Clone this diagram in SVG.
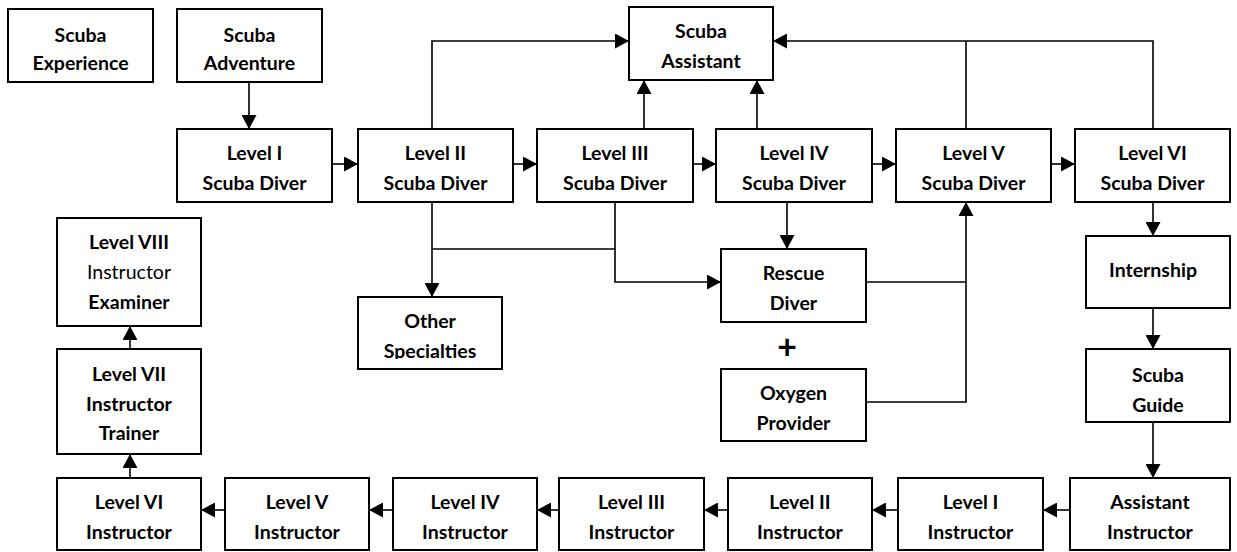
<svg xmlns="http://www.w3.org/2000/svg" width="1237" height="552" viewBox="0 0 1237 552">
<style>
.box{fill:#fff;stroke:#000;stroke-width:2}
text{font-family:Lato,"Liberation Sans",sans-serif;font-size:19.5px;font-weight:bold;text-anchor:middle;fill:#000}
.reg{font-weight:normal}
.c{fill:none;stroke:#000;stroke-width:1.6}
.a{marker-end:url(#ah)}
</style>
<defs>
<marker id="ah" markerUnits="userSpaceOnUse" markerWidth="15" markerHeight="15" refX="14" refY="7.5" orient="auto">
<path d="M0,0 L14,7.5 L0,15 z" fill="#000"/>
</marker>
<clipPath id="clipOther"><rect x="358" y="297" width="144" height="62"/></clipPath>
</defs>
<g id="connectors">
<path class="c a" d="M249,82 V129"/>
<path class="c a" d="M332,164 H358"/>
<path class="c a" d="M513,164 H537"/>
<path class="c a" d="M693,164 H716"/>
<path class="c a" d="M872,164 H896"/>
<path class="c a" d="M1051,164 H1075"/>
<path class="c a" d="M432,129 V41 H629"/>
<path class="c a" d="M644,129 V80"/>
<path class="c a" d="M757,129 V80"/>
<path class="c a" d="M1153,129 V41 H773"/>
<path class="c" d="M966,129 V41"/>
<path class="c a" d="M432,202 V297"/>
<path class="c" d="M432,249 H615"/>
<path class="c a" d="M615,202 V282 H721"/>
<path class="c a" d="M787,202 V249"/>
<path class="c" d="M866,282 H966"/>
<path class="c a" d="M866,402 H966 V202"/>
<path class="c a" d="M1153,202 V236"/>
<path class="c a" d="M1153,308 V349"/>
<path class="c a" d="M1153,422 V478"/>
<path class="c a" d="M1070,510 H1043"/>
<path class="c a" d="M898,510 H872"/>
<path class="c a" d="M728,510 H704"/>
<path class="c a" d="M559,510 H537"/>
<path class="c a" d="M393,510 H369"/>
<path class="c a" d="M225,510 H201"/>
<path class="c a" d="M130,478 V454"/>
<path class="c a" d="M130,349 V326"/>
</g>
<g id="scuba-experience"><rect class="box" x="8" y="9" width="145" height="73"/><text x="80.5" y="42">Scuba</text><text x="80.5" y="70">Experience</text></g>
<g id="scuba-adventure"><rect class="box" x="177" y="9" width="145" height="73"/><text x="249.5" y="42">Scuba</text><text x="249.5" y="70">Adventure</text></g>
<g id="scuba-assistant"><rect class="box" x="629" y="7" width="144" height="73"/><text x="701" y="38">Scuba</text><text x="701" y="68">Assistant</text></g>
<g id="level1-diver"><rect class="box" x="177" y="129" width="155" height="73"/><text x="254.5" y="160">Level I</text><text x="254.5" y="190">Scuba Diver</text></g>
<g id="level2-diver"><rect class="box" x="358" y="129" width="155" height="73"/><text x="435.5" y="160">Level II</text><text x="435.5" y="190">Scuba Diver</text></g>
<g id="level3-diver"><rect class="box" x="537" y="129" width="156" height="73"/><text x="615" y="160">Level III</text><text x="615" y="190">Scuba Diver</text></g>
<g id="level4-diver"><rect class="box" x="716" y="129" width="156" height="73"/><text x="794" y="160">Level IV</text><text x="794" y="190">Scuba Diver</text></g>
<g id="level5-diver"><rect class="box" x="896" y="129" width="155" height="73"/><text x="973.5" y="160">Level V</text><text x="973.5" y="190">Scuba Diver</text></g>
<g id="level6-diver"><rect class="box" x="1075" y="129" width="155" height="73"/><text x="1152.5" y="160">Level VI</text><text x="1152.5" y="190">Scuba Diver</text></g>
<g id="other-specialties"><rect class="box" x="358" y="297" width="144" height="72"/><g clip-path="url(#clipOther)"><text x="430" y="328">Other</text><text x="430" y="358">Specialties</text></g></g>
<g id="rescue-diver"><rect class="box" x="721" y="249" width="145" height="73"/><text x="793.5" y="280">Rescue</text><text x="793.5" y="310">Diver</text></g>
<g id="plus"><text x="787" y="359" style="font-size:34px">+</text></g>
<g id="oxygen-provider"><rect class="box" x="721" y="369" width="145" height="72"/><text x="793.5" y="400">Oxygen</text><text x="793.5" y="430">Provider</text></g>
<g id="internship"><rect class="box" x="1086" y="236" width="144" height="72"/><text x="1153" y="277">Internship</text></g>
<g id="scuba-guide"><rect class="box" x="1086" y="349" width="144" height="73"/><text x="1158" y="382">Scuba</text><text x="1158" y="412">Guide</text></g>
<g id="assistant-instructor"><rect class="box" x="1070" y="478" width="160" height="72"/><text x="1150" y="509">Assistant</text><text x="1150" y="539">Instructor</text></g>
<g id="level1-instructor"><rect class="box" x="898" y="478" width="145" height="72"/><text x="970.5" y="509">Level I</text><text x="970.5" y="539">Instructor</text></g>
<g id="level2-instructor"><rect class="box" x="728" y="478" width="144" height="72"/><text x="800" y="509">Level II</text><text x="800" y="539">Instructor</text></g>
<g id="level3-instructor"><rect class="box" x="559" y="478" width="145" height="72"/><text x="631.5" y="509">Level III</text><text x="631.5" y="539">Instructor</text></g>
<g id="level4-instructor"><rect class="box" x="393" y="478" width="144" height="72"/><text x="465" y="509">Level IV</text><text x="465" y="539">Instructor</text></g>
<g id="level5-instructor"><rect class="box" x="225" y="478" width="144" height="72"/><text x="297" y="509">Level V</text><text x="297" y="539">Instructor</text></g>
<g id="level6-instructor"><rect class="box" x="57" y="478" width="144" height="72"/><text x="129" y="509">Level VI</text><text x="129" y="539">Instructor</text></g>
<g id="level7-instructor-trainer"><rect class="box" x="57" y="349" width="144" height="105"/><text x="129" y="381">Level VII</text><text x="129" y="411">Instructor</text><text x="129" y="440">Trainer</text></g>
<g id="level8-instructor-examiner"><rect class="box" x="57" y="218" width="144" height="108"/><text x="129" y="249">Level VIII</text><text x="129" y="279" class="reg">Instructor</text><text x="129" y="309">Examiner</text></g>
</svg>
